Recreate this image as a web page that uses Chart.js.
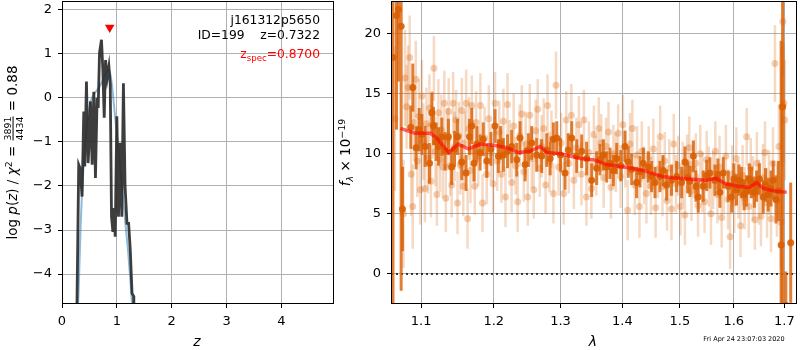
<!DOCTYPE html>
<html>
<head>
  <meta charset="utf-8">
  <title>j161312p5650</title>
  <script src="https://cdn.jsdelivr.net/npm/chart.js@4.4.0/dist/chart.umd.min.js"></script>
  <style>
    body { margin: 0; background: #fff; }
    #wrap { position: relative; width: 800px; height: 350px; }
    #pz { position: absolute; left: 0; top: 0; }
    #sed { position: absolute; left: 335px; top: 0; }
  </style>
</head>
<body>
<div id="wrap">
  <canvas id="pz" width="335" height="350"></canvas>
  <canvas id="sed" width="465" height="350"></canvas>
</div>

<script>
// --- p(z) panel ---
const zGrid = [0.27, 0.305, 0.33, 0.366, 0.397, 0.415, 0.446, 0.476, 0.50, 0.519,
               0.55, 0.58, 0.61, 0.64, 0.66, 0.684, 0.72, 0.745, 0.77, 0.794,
               0.824, 0.855, 0.88, 0.903, 0.928, 0.95, 0.97, 1.0, 1.03, 1.06,
               1.09, 1.12, 1.15, 1.185, 1.215, 1.245, 1.277, 1.306, 1.31];
const logPz = [-5.0, -1.52, -1.6, -2.24, -0.31, -1.56, 0.37, -1.48, -0.9, -0.08,
               -1.52, 0.14, -1.82, 0.0, -0.23, 1.02, 1.32, 0.64, -0.45, 0.86,
               0.45, 0.71, 0.3, -2.7, -3.04, -2.5, -3.15, -0.42, -2.7, -1.02,
               -2.7, 0.33, -2.0, -2.85, -2.85, -3.45, -4.44, -4.5, -5.0];
const zSmooth = [0.27, 0.30, 0.34, 0.39, 0.45, 0.51, 0.57, 0.635, 0.727, 0.818,
                 0.85, 0.88, 0.91, 0.97, 1.03, 1.09, 1.15, 1.21, 1.25, 1.29];
const logPzSmooth = [-5.0, -4.5, -2.9, -1.6, -0.7, -0.15, 0.05, 0.17, 0.35, 0.6,
                     0.64, 0.55, 0.3, -0.45, -1.2, -1.97, -2.77, -3.55, -4.2, -4.9];
const zSpec = 0.87;
const zTicks = [0, 1, 2, 3, 4];
const pzTicks = [-4, -3, -2, -1, 0, 1, 2];

// --- spectrum panel ---
const lamFaint = [
  1.066,1.077,1.079,1.081,1.083,1.085,1.087,1.089,1.091,1.093,
  1.095,1.097,1.099,1.101,1.103,1.105,1.107,1.109,1.111,1.113,
  1.115,1.117,1.119,1.121,1.123,1.125,1.127,1.129,1.131,1.133,
  1.135,1.137,1.139,1.141,1.143,1.145,1.147,1.149,1.151,1.153,
  1.155,1.157,1.159,1.161,1.163,1.165,1.167,1.169,1.171,1.173,
  1.175,1.178,1.181,1.184,1.187,1.190,1.193,1.196,1.199,1.202,
  1.205,1.208,1.211,1.214,1.217,1.220,1.223,1.226,1.229,1.232,
  1.235,1.238,1.241,1.244,1.247,1.250,1.253,1.256,1.259,1.262,
  1.265,1.268,1.271,1.274,1.277,1.280,1.283,1.286,1.289,1.293,
  1.297,1.301,1.305,1.309,1.313,1.317,1.321,1.325,1.329,1.333,
  1.337,1.341,1.345,1.349,1.353,1.357,1.361,1.365,1.369,1.373,
  1.377,1.381,1.385,1.389,1.393,1.397,1.401,1.405,1.409,1.413,
  1.417,1.421,1.425,1.429,1.433,1.437,1.441,1.445,1.449,1.453,
  1.457,1.461,1.465,1.469,1.473,1.477,1.481,1.485,1.489,1.493,
  1.497,1.501,1.505,1.509,1.513,1.517,1.521,1.525,1.529,1.533,
  1.537,1.541,1.545,1.549,1.553,1.557,1.561,1.565,1.569,1.573,
  1.577,1.581,1.585,1.589,1.593,1.597,1.601,1.605,1.609,1.613,
  1.617,1.621,1.625,1.629,1.633,1.637,1.641,1.645,1.649,1.653,
  1.657,1.661,1.665,1.669,1.673,1.677,1.681,1.685,1.689,1.693,
  1.695,1.697,1.699,1.701];
const fluxFaint = [
  12.9,5.0,16.3,13.9,15.5,18.0,8.3,5.6,12.6,16.2,
  9.4,13.1,7.0,14.8,11.0,7.1,12.5,9.6,13.8,7.7,
  12.4,17.1,10.2,6.6,13.4,9.5,12.0,8.9,14.2,6.3,
  11.2,13.5,9.0,7.4,14.2,10.6,12.8,5.9,11.5,9.1,
  13.6,7.3,10.9,14.2,4.6,12.1,8.6,14.0,10.2,7.3,
  12.6,9.8,14.0,5.9,11.3,8.3,12.9,10.1,7.5,14.2,
  9.4,11.8,8.3,12.7,6.4,14.1,10.4,7.6,12.3,9.0,
  6.0,11.5,13.3,8.5,10.8,6.4,13.2,9.6,7.0,11.9,
  13.7,8.8,10.6,12.1,7.4,14.0,9.3,11.2,6.7,15.7,
  8.9,10.9,6.7,12.8,9.2,13.2,7.8,10.5,12.4,8.3,
  12.8,6.4,10.1,7.1,11.6,9.0,12.1,10.9,8.0,10.6,
  11.8,7.2,10.0,9.3,11.7,8.1,12.4,9.6,5.3,10.8,
  12.1,7.4,9.9,5.6,10.2,8.2,6.7,9.7,7.3,10.4,
  5.5,8.7,11.4,7.3,9.4,6.1,8.8,5.4,10.8,7.5,
  9.0,5.6,8.4,4.9,9.2,10.5,6.9,8.7,9.2,5.7,
  10.0,7.6,6.0,9.5,8.1,5.0,7.8,10.2,6.6,8.9,
  4.7,7.4,9.8,6.2,3.1,8.3,5.9,9.6,7.0,4.0,
  8.2,6.3,11.4,5.6,8.8,7.1,4.5,9.2,6.8,4.8,
  8.0,10.1,5.9,7.6,4.6,9.2,17.5,6.1,10.6,4.3,
  13.9,21.0,14.2,12.8];
const errFaint = [
  6.0,4.5,4.0,3.5,3.5,3.5,3.5,3.5,3.2,3.2,
  3.0,3.1,2.9,3.0,3.2,2.8,3.0,2.9,2.8,3.0,
  2.8,2.7,2.9,2.6,2.8,2.7,2.9,2.6,2.7,2.8,
  2.6,2.8,2.5,2.7,2.6,2.9,2.5,2.6,2.8,2.5,
  2.7,2.5,2.6,2.8,2.5,2.6,2.7,2.5,2.6,2.4,
  2.6,2.5,2.7,2.4,2.6,2.5,2.8,2.4,2.5,2.6,
  2.5,2.6,2.4,2.7,2.5,2.6,2.4,2.5,2.7,2.4,
  2.5,2.6,2.4,2.5,2.7,2.4,2.6,2.5,2.4,2.6,
  2.5,2.4,2.6,2.5,2.4,2.6,2.5,2.4,2.5,2.8,
  2.4,2.5,2.6,2.4,2.5,2.6,2.4,2.5,2.4,2.6,
  2.5,2.4,2.6,2.5,2.4,2.5,2.6,2.4,2.5,2.4,
  2.5,2.6,2.4,2.5,2.4,2.6,2.5,2.4,2.5,2.6,
  2.4,2.5,2.4,2.6,2.5,2.4,2.5,2.6,2.4,2.5,
  2.5,2.4,2.6,2.5,2.4,2.5,2.4,2.6,2.5,2.4,
  2.5,2.4,2.6,2.5,2.4,2.6,2.5,2.4,2.5,2.6,
  2.4,2.5,2.6,2.4,2.5,2.6,2.4,2.5,2.4,2.6,
  2.5,2.4,2.6,2.5,2.7,2.4,2.5,2.6,2.4,2.6,
  2.5,2.6,2.4,2.6,2.5,2.7,2.5,2.6,2.7,2.5,
  2.8,2.6,2.9,2.7,2.8,3.0,3.2,3.0,3.5,3.8,
  5.0,4.5,5.0,5.0];

const lamBin = [
  1.0635,1.0680,1.0705,1.0740,1.0757,1.0865,1.0891,1.0934,1.0975,1.1009,
  1.1053,1.1111,1.1142,1.1164,1.1200,1.1231,1.1276,1.1320,1.1366,1.1411,
  1.1450,1.1489,1.1549,1.1609,1.1656,1.1688,1.1721,1.1760,1.1806,1.1850,
  1.1901,1.1960,1.2019,1.2067,1.2100,1.2140,1.2200,1.2262,1.2336,1.2385,
  1.2460,1.2510,1.2559,1.2634,1.2710,1.2787,1.2840,1.2889,1.2941,1.3000,
  1.3071,1.3120,1.3176,1.3255,1.3334,1.3414,1.3495,1.3576,1.3630,1.3685,
  1.3740,1.3795,1.3850,1.3906,1.3975,1.4044,1.4100,1.4157,1.4242,1.4300,
  1.4357,1.4443,1.4500,1.4559,1.4645,1.4700,1.4763,1.4851,1.4941,1.5031,
  1.5091,1.5140,1.5182,1.5243,1.5290,1.5333,1.5425,1.5490,1.5549,1.5643,
  1.5700,1.5737,1.5800,1.5895,1.5959,1.6000,1.6053,1.6100,1.6150,1.6200,
  1.6247,1.6300,1.6345,1.6400,1.6443,1.6500,1.6575,1.6620,1.6675,1.6730,
  1.6775,1.6830,1.6880,1.6935,1.6965,1.7030,1.7130];
const fluxBin = [
  18.0,21.5,22.0,20.6,5.4,12.2,15.5,10.5,12.0,11.6,
  10.6,9.2,13.4,12.3,11.0,10.6,11.4,10.2,11.4,8.9,
  10.4,11.4,9.3,8.4,11.4,12.3,9.2,10.8,10.1,11.2,
  9.4,10.4,12.3,9.8,10.9,9.9,10.2,10.6,9.5,11.3,
  9.1,10.3,10.9,9.9,9.8,10.3,9.6,11.2,11.3,9.9,
  8.4,10.3,11.3,9.8,10.2,9.6,7.8,8.8,9.5,9.9,
  8.9,9.2,8.6,9.6,9.0,10.6,9.3,8.7,7.6,8.5,
  9.2,8.9,8.1,7.6,8.1,8.6,7.4,7.8,8.1,7.6,
  9.3,8.0,7.7,9.8,7.3,6.4,7.3,8.2,8.4,7.8,
  8.3,6.8,8.4,7.3,6.4,7.9,7.0,7.8,7.6,6.6,
  6.9,7.9,7.6,6.8,7.3,7.9,6.4,7.4,6.6,7.1,
  7.8,6.2,6.9,2.4,13.9,-2.6,2.6];
const errBin = [
  25,9.5,6,22,3.5,1.8,2.0,1.8,1.8,1.7,
  1.7,1.7,1.7,1.6,1.6,1.6,1.6,1.6,1.5,1.5,
  1.5,1.5,1.5,1.5,1.5,1.5,1.5,1.5,1.5,1.4,
  1.4,1.4,1.4,1.4,1.4,1.4,1.4,1.4,1.4,1.4,
  1.4,1.4,1.4,1.4,1.4,1.4,1.4,1.4,1.4,1.4,
  1.4,1.4,1.4,1.4,1.4,1.4,1.4,1.4,1.3,1.3,
  1.3,1.3,1.3,1.3,1.3,1.3,1.3,1.3,1.3,1.3,
  1.3,1.3,1.3,1.3,1.3,1.3,1.3,1.3,1.3,1.3,
  1.3,1.3,1.3,1.3,1.3,1.3,1.3,1.3,1.3,1.3,
  1.3,1.3,1.3,1.3,1.3,1.3,1.3,1.3,1.3,1.3,
  1.3,1.3,1.3,1.3,1.3,1.3,1.4,1.4,1.4,1.5,
  1.6,2.0,2.5,17,17,2.8,5.0];

const lamModel = [1.073,1.092,1.112,1.121,1.137,1.150,1.164,1.181,1.200,1.219,
                  1.236,1.253,1.269,1.279,1.300,1.331,1.352,1.374,1.403,1.436,
                  1.470,1.487,1.518,1.548,1.566,1.585,1.610,1.630,1.645,1.658,
                  1.680,1.705];
const fluxModel = [12.1,11.7,11.7,11.3,10.1,10.8,10.4,10.8,10.7,10.5,
                   10.1,10.2,10.6,10.1,10.0,9.6,9.5,9.1,8.9,8.6,
                   8.1,8.0,7.9,7.8,7.95,7.5,7.3,7.2,7.6,7.1,
                   6.9,6.8];
const lamTicks = [1.1, 1.2, 1.3, 1.4, 1.5, 1.6, 1.7];
const fluxTicks = [0, 5, 10, 15, 20];

const FONT = '"DejaVu Sans", sans-serif';
Chart.defaults.font.family = FONT;
Chart.defaults.font.size = 13;
Chart.defaults.color = '#000';
Chart.defaults.animation = false;

const pts = (xs, ys) => xs.map((x, i) => ({ x: x, y: ys[i] }));
const minus = v => String(v).replace('-', '\u2212');

// text made of runs: italic, scaled, shifted, or a stacked fraction
function runWidth(ctx, r, base) {
  if (r.frac) {
    ctx.font = (base * 0.7) + 'px ' + FONT;
    return Math.max(ctx.measureText(r.frac[0]).width, ctx.measureText(r.frac[1]).width) + 2;
  }
  ctx.font = (r.it ? 'italic ' : '') + (base * (r.sc || 1)) + 'px ' + FONT;
  return ctx.measureText(r.t).width;
}
function drawRich(ctx, runs, x0, y0, angle, base, color, align) {
  ctx.save();
  ctx.translate(x0, y0);
  ctx.rotate(angle);
  ctx.fillStyle = color;
  ctx.textBaseline = 'alphabetic';
  const total = runs.reduce((s, r) => s + runWidth(ctx, r, base), 0);
  let x = align === 'right' ? -total : -total / 2;
  for (const r of runs) {
    const w = runWidth(ctx, r, base);
    if (r.frac) {
      ctx.font = (base * 0.7) + 'px ' + FONT;
      ctx.textAlign = 'center';
      ctx.fillText(r.frac[0], x + w / 2, -base * 0.42);
      ctx.fillText(r.frac[1], x + w / 2, base * 0.42);
      ctx.fillRect(x + 1, -base * 0.33, w - 2, 1);
    } else {
      ctx.textAlign = 'left';
      ctx.font = (r.it ? 'italic ' : '') + (base * (r.sc || 1)) + 'px ' + FONT;
      ctx.fillText(r.t, x, (r.dy || 0) * base);
    }
    x += w;
  }
  ctx.restore();
}

// black box around the plotting area
const frame = {
  id: 'frame',
  afterDatasetsDraw(chart) {
    const { ctx, chartArea: a } = chart;
    ctx.save();
    ctx.strokeStyle = '#000';
    ctx.lineWidth = 1;
    ctx.strokeRect(Math.round(a.left) + 0.5, Math.round(a.top) + 0.5,
                   Math.round(a.right - a.left) - 1, Math.round(a.bottom - a.top) - 1);
    ctx.restore();
  }
};

// vertical error bars under each dataset that carries errs
const errorBars = {
  id: 'errorBars',
  beforeDatasetDraw(chart, args) {
    const ds = chart.data.datasets[args.index];
    if (!ds.errs) return;
    const { ctx, chartArea: a, scales: { x, y } } = chart;
    ctx.save();
    ctx.beginPath();
    ctx.rect(a.left, a.top, a.right - a.left, a.bottom - a.top);
    ctx.clip();
    ctx.strokeStyle = ds.errColor;
    ctx.lineWidth = ds.errWidth;
    ds.data.forEach((p, i) => {
      const px = x.getPixelForValue(p.x);
      ctx.beginPath();
      ctx.moveTo(px, y.getPixelForValue(p.y - ds.errs[i]));
      ctx.lineTo(px, y.getPixelForValue(p.y + ds.errs[i]));
      ctx.stroke();
    });
    ctx.restore();
  }
};

// fixed-size axis: no extra room reserved for overhanging labels
function axis(min, max, ticks, fmt, fit) {
  return {
    min: min, max: max,
    afterBuildTicks: s => { s.ticks = ticks.map(v => ({ value: v })); },
    afterFit: s => {
      fit(s);
      s.paddingTop = s.paddingBottom = s.paddingLeft = s.paddingRight = 0;
    },
    ticks: { padding: 6, autoSkip: false, maxRotation: 0, callback: fmt || (v => minus(v)) },
    grid: { color: '#b0b0b0', lineWidth: 1, tickColor: '#000', tickLength: 4 },
    border: { display: false }
  };
}

// p(z) chart
const pzX = axis(0, 4.96, zTicks, null, s => { s.height = 46; });
pzX.type = 'linear';
const pzY = axis(-4.68, 2.2, pzTicks, null, s => { s.width = 62; });

const pzLabels = {
  id: 'pzLabels',
  afterDraw(chart) {
    const ctx = chart.ctx;
    ctx.save();
    ctx.fillStyle = '#000';
    ctx.font = '12.3px ' + FONT;
    ctx.textAlign = 'right';
    ctx.fillText('j161312p5650', 320, 24);
    ctx.fillText('ID=199    z=0.7322', 320, 39);
    ctx.restore();
    drawRich(ctx, [{ t: 'z' }, { t: 'spec', sc: 0.7, dy: 0.28 }, { t: '=0.8700' }],
             320, 58, 0, 12.3, '#ff0000', 'right');
    drawRich(ctx, [{ t: 'z', it: 1 }], 197, 346, 0, 14, '#000');
    drawRich(ctx, [{ t: 'log ' }, { t: 'p', it: 1 }, { t: '(' }, { t: 'z', it: 1 }, { t: ') / ' },
                   { t: '\u03c7', it: 1 }, { t: '2', sc: 0.7, dy: -0.4 }, { t: ' = ' },
                   { frac: ['3891', '4434'] }, { t: ' = 0.88' }],
             17, 152.5, -Math.PI / 2, 13.5, '#000');
  }
};

// first dataset is painted last, so the p(z) curve sits over the smooth fit
new Chart(document.getElementById('pz'), {
  type: 'scatter',
  data: {
    datasets: [
      { data: [{ x: zSpec, y: 1.6 }], pointStyle: 'triangle', rotation: 180, pointRadius: 5.5,
        backgroundColor: '#ff0000', borderColor: '#ff0000', borderWidth: 0 },
      { data: pts(zGrid, logPz), showLine: true, borderColor: 'rgba(40,40,40,0.9)',
        borderWidth: 2.8, pointRadius: 0 },
      { data: pts(zSmooth, logPzSmooth), showLine: true, borderColor: 'rgba(31,119,180,0.5)',
        borderWidth: 2, pointRadius: 0, cubicInterpolationMode: 'monotone' }
    ]
  },
  options: {
    responsive: false,
    layout: { autoPadding: false, padding: { top: 1, right: 1, left: 0, bottom: 0 } },
    plugins: { legend: { display: false }, tooltip: { enabled: false } },
    scales: { x: pzX, y: pzY }
  },
  plugins: [frame, pzLabels]
});

// spectrum chart
const sedX = axis(1.061, 1.726, lamTicks, v => Number(v).toFixed(1), s => { s.height = 46; });
sedX.type = 'logarithmic';
const sedY = axis(-2.5, 22.7, fluxTicks, null, s => { s.width = 56; });

const sedLabels = {
  id: 'sedLabels',
  afterDraw(chart) {
    const ctx = chart.ctx;
    drawRich(ctx, [{ t: '\u03bb', it: 1 }], 258, 346, 0, 14, '#000');
    drawRich(ctx, [{ t: 'f', it: 1 }, { t: '\u03bb', it: 1, sc: 0.7, dy: 0.25 }, { t: ' \u00d7 10' },
                   { t: '\u221219', sc: 0.7, dy: -0.4 }],
             15, 152.5, -Math.PI / 2, 13.5, '#000');
    ctx.save();
    ctx.fillStyle = '#000';
    ctx.font = '6.5px ' + FONT;
    ctx.textAlign = 'center';
    ctx.fillText('Fri Apr 24 23:07:03 2020', 409, 341);
    ctx.restore();
  }
};

new Chart(document.getElementById('sed'), {
  type: 'scatter',
  data: {
    datasets: [
      { data: pts(lamModel, fluxModel), showLine: true, borderColor: 'rgba(255,0,0,0.6)',
        borderWidth: 3.5, pointRadius: 0 },
      { data: pts(lamBin, fluxBin), errs: errBin, errColor: 'rgba(217,95,2,0.8)', errWidth: 3,
        pointRadius: 3.5, backgroundColor: 'rgba(217,95,2,0.9)', borderWidth: 0 },
      { data: pts(lamFaint, fluxFaint), errs: errFaint, errColor: 'rgba(217,95,2,0.24)', errWidth: 2.5,
        pointRadius: 3.5, backgroundColor: 'rgba(217,95,2,0.3)', borderWidth: 0 },
      { data: [{ x: 1.061, y: 0 }, { x: 1.726, y: 0 }], showLine: true, borderColor: '#000',
        borderWidth: 1.5, borderDash: [2, 3], pointRadius: 0 }
    ]
  },
  options: {
    responsive: false,
    layout: { autoPadding: false, padding: { top: 1, right: 3, left: 0, bottom: 0 } },
    plugins: { legend: { display: false }, tooltip: { enabled: false } },
    scales: { x: sedX, y: sedY }
  },
  plugins: [errorBars, frame, sedLabels]
});
</script>
</body>
</html>
